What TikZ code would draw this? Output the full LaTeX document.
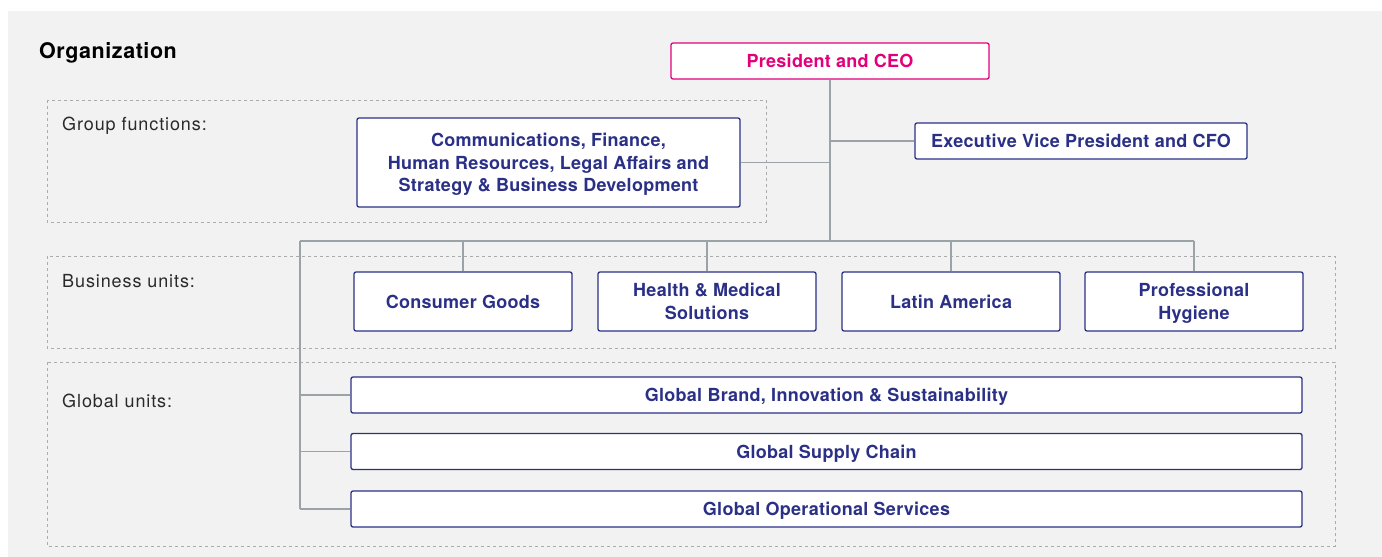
\documentclass[tikz,border=0pt]{standalone}
\usepackage{fontspec}
\setmainfont{TeX Gyre Heros}
\newfontfamily\unitfont[LetterSpace=1.5]{TeX Gyre Heros}
\newfontfamily\labelfont[LetterSpace=5]{TeX Gyre Heros}
\newfontfamily\titlefont[LetterSpace=2.6]{TeX Gyre Heros}
\usetikzlibrary{positioning}
\definecolor{navy}{HTML}{2B3087}
\definecolor{ceopink}{HTML}{E2007A}
\definecolor{linegray}{HTML}{9AA3A6}
\definecolor{dashgray}{HTML}{ABABAB}
\definecolor{bggray}{HTML}{F2F2F2}
\definecolor{labelgray}{HTML}{2A2A2A}

\begin{document}
\begin{tikzpicture}[x=1pt, y=-1pt,
  unit/.style={draw=navy, fill=white, rounded corners=2pt, line width=1.3pt, text=navy,
    font=\unitfont\bfseries\fontsize{18}{22.5}\selectfont, align=center, inner sep=0pt, text depth=0pt},
  ceobox/.style={unit, draw=ceopink, text=ceopink},
  grouplabel/.style={anchor=west, inner sep=0pt, text=labelgray, font=\labelfont\fontsize{18}{21}\selectfont},
  groupframe/.style={draw=dashgray, line width=0.9pt, dash pattern=on 3pt off 3pt},
  link/.style={draw=linegray, line width=1.4pt}]

\useasboundingbox (0,0) rectangle (1382,557);
\fill[bggray] (8,11) rectangle (1382,557);

  % Dashed frames and their labels
\draw[groupframe] (47,100) rectangle (766,222); \draw[groupframe] (47,256) rectangle (1335,348); \draw[groupframe] (47,362) rectangle (1335,546);
\node[anchor=west, inner sep=0pt, font=\titlefont\bfseries\fontsize{21.5}{25}\selectfont] (title) at (39,53) {Organization};
\node[grouplabel] (lgroup) at (62,126) {Group functions:}; \node[grouplabel] (lbusiness) at (62,281) {Business units:}; \node[grouplabel] (lglobal) at (62,401) {Global units:};

  % Boxes
\node[ceobox, minimum width=318, minimum height=36] (ceo) at (830,61) {President and CEO};
\node[unit, minimum width=332, minimum height=36] (cfo) at (1081,141) {Executive Vice President and CFO};
\node[unit, minimum width=383, minimum height=89] (staff) at (548.5,162.5) {Communications, Finance,\\Human Resources, Legal Affairs and\\Strategy \& Business Development};
\node[unit, minimum width=218, minimum height=59] (cg) at (463,301.5) {Consumer Goods};
\node[unit, minimum width=218, minimum height=59] (hms) at (707,301.5) {Health \& Medical\\Solutions};
\node[unit, minimum width=218, minimum height=59] (latam) at (951,301.5) {Latin America};
\node[unit, minimum width=218, minimum height=59] (ph) at (1194,301.5) {Professional\\Hygiene};
\node[unit, minimum width=951, minimum height=36] (gbis) at (826.5,395) {Global Brand, Innovation \& Sustainability};
\node[unit, minimum width=951, minimum height=36] (gsc) at (826.5,451.5) {Global Supply Chain};
\node[unit, minimum width=951, minimum height=36] (gos) at (826.5,509) {Global Operational Services};

  % Connectors
\coordinate (bus) at (830,241); \coordinate (busL) at (300,241);
\draw[link] (ceo) -- (bus); \draw[link] (ceo.south |- cfo) -- (cfo); \draw[link] (staff.east) -- (staff.east -| ceo.south);
\draw[link] (busL) -- (ph.north |- bus);
\foreach \n in {cg,hms,latam,ph} \draw[link] (\n.north |- bus) -- (\n.north);
\draw[link] (busL) -- (busL |- gos.west);
\foreach \n in {gbis,gsc,gos} \draw[link] (busL |- \n.west) -- (\n.west);

\end{tikzpicture}
\end{document}
